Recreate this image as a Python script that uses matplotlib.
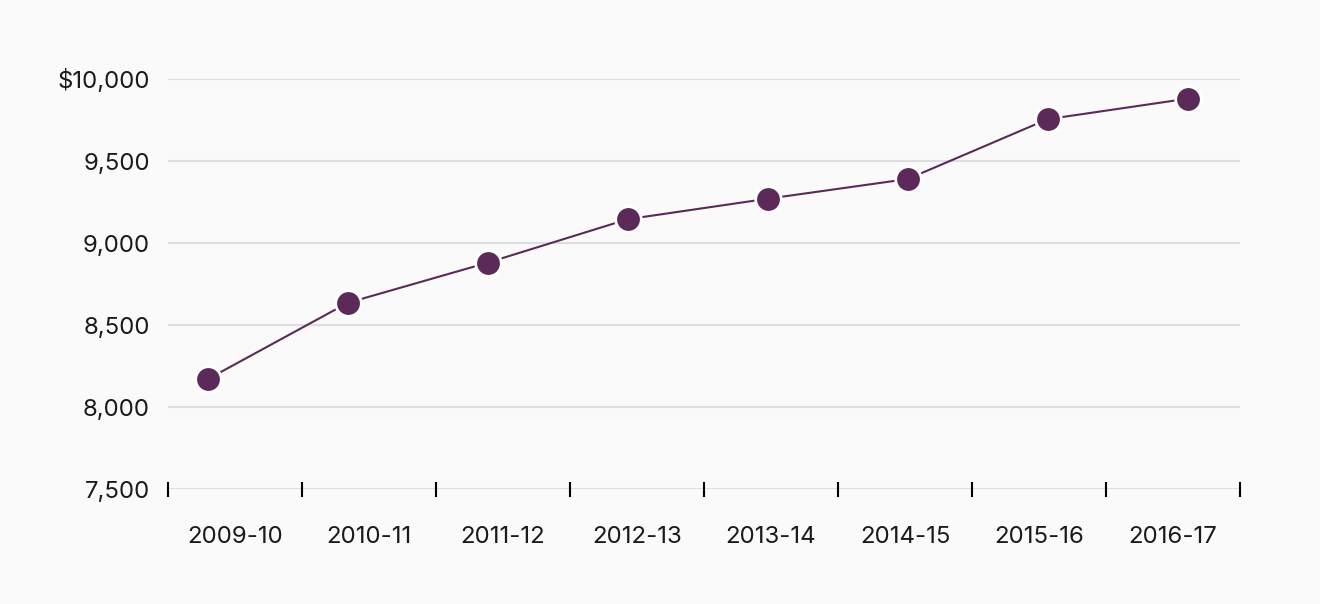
import matplotlib
matplotlib.use("Agg")
import matplotlib.pyplot as plt
from matplotlib.ticker import FuncFormatter, FixedLocator, NullFormatter

years = ["2009-10", "2010-11", "2011-12", "2012-13", "2013-14", "2014-15", "2015-16", "2016-17"]
spending = [8170, 8635, 8880, 9145, 9270, 9390, 9755, 9880]
y_ticks = [7500, 8000, 8500, 9000, 9500, 10000]

LINE = "#5b2a59"
GRID = "#dcdee2"
BG = "#fafafa"
TEXT = "#1a1a1a"

plt.rcParams["font.family"] = ["Inter", "DejaVu Sans"]

fig = plt.figure(figsize=(13.2, 6.04), dpi=100, facecolor=BG)
W, H = 1320, 604
left, right, top, bottom = 168, 1240, 79, 489
ax = fig.add_axes([left / W, 1 - bottom / H, (right - left) / W, (bottom - top) / H])
ax.set_facecolor(BG)

# point scale for the line: padded so points sit off the band centres like the source
ax.set_xlim(-0.284, 7.374)
ax.set_ylim(7500, 10000)
ax.plot(range(len(years)), spending, color=LINE, lw=1.5, zorder=3)
ax.scatter(range(len(years)), spending, s=340, color=LINE, edgecolor="white",
           linewidth=2, zorder=4, clip_on=False)

ax.set_yticks(y_ticks)
ax.yaxis.set_major_formatter(FuncFormatter(lambda v, _: f"${v:,.0f}" if v == 10000 else f"{v:,.0f}"))
ax.tick_params(axis="y", length=0, pad=13, labelsize=17.3, labelcolor=TEXT)
ax.grid(axis="y", color=GRID, lw=1.5)
ax.set_axisbelow(True)
ax.set_xticks([])
for s in ax.spines.values():
    s.set_visible(False)

# band scale for the category axis ticks and labels
bx = ax.twiny()
bx.set_xlim(0, len(years))
bx.xaxis.set_ticks_position("bottom")
bx.xaxis.set_label_position("bottom")
bx.xaxis.set_major_locator(FixedLocator(range(len(years) + 1)))
bx.xaxis.set_major_formatter(NullFormatter())
bx.xaxis.set_minor_locator(FixedLocator([i + 0.5 for i in range(len(years))]))
bx.set_xticklabels(years, minor=True)
bx.tick_params(axis="x", which="major", direction="inout", length=10.8, width=1.5, color="black")
bx.tick_params(axis="x", which="minor", length=0, pad=26.5, labelsize=17.3, labelcolor=TEXT)
for s in bx.spines.values():
    s.set_visible(False)

fig.savefig("out.png", dpi=100, facecolor=BG)
